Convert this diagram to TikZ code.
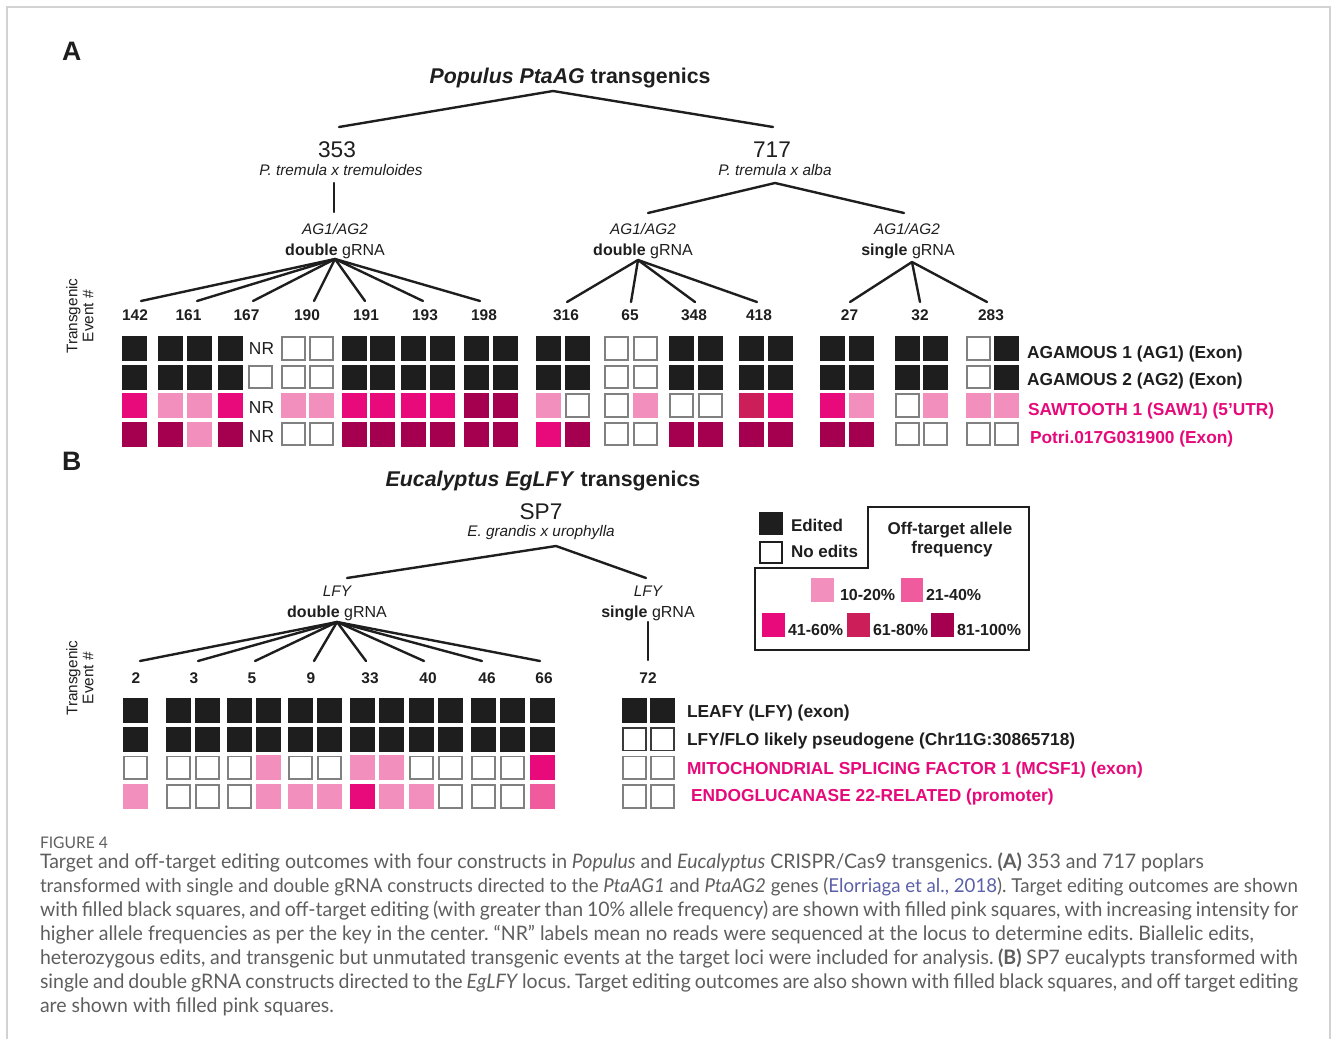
\documentclass[tikz,border=0pt]{standalone}
\usepackage{fontspec}
\setmainfont{Liberation Sans}
\newfontfamily\capfont[FakeStretch=0.975]{Lato}
\frenchspacing
\definecolor{cB}{HTML}{1E1E1E}
\definecolor{cG}{HTML}{808080}
\definecolor{cK}{HTML}{3A3A3A}
\definecolor{pa}{HTML}{F28FBC}
\definecolor{pb}{HTML}{EF5B9C}
\definecolor{pc}{HTML}{E8097B}
\definecolor{pd}{HTML}{CC1F5A}
\definecolor{pe}{HTML}{A5004F}
\definecolor{ptext}{HTML}{E6097A}
\definecolor{capc}{HTML}{5E5E5E}
\definecolor{citc}{HTML}{5B60A8}
\definecolor{cFrame}{HTML}{D2D2D2}
\newcommand\gsq[3]{\csname gsq#3\endcsname{#1}{#2}}
\newcommand\gsqB[2]{\fill[cB] (#1,#2) rectangle ++(25,25);}
\newcommand\gsqW[2]{\draw[cG,line width=1.3pt,fill=white] (#1+1.2,#2+1.2) rectangle ++(22.6,22.6);}
\newcommand\gsqK[2]{\draw[cK,line width=1.3pt,fill=white] (#1+1.2,#2+1.2) rectangle ++(22.6,22.6);}
\newcommand\gsqN[2]{}
\newcommand\gsqa[2]{\fill[pa] (#1,#2) rectangle ++(25,25);}
\newcommand\gsqb[2]{\fill[pb] (#1,#2) rectangle ++(25,25);}
\newcommand\gsqc[2]{\fill[pc] (#1,#2) rectangle ++(25,25);}
\newcommand\gsqd[2]{\fill[pd] (#1,#2) rectangle ++(25,25);}
\newcommand\gsqe[2]{\fill[pe] (#1,#2) rectangle ++(25,25);}
\newcommand\colA[5]{\gsq{#1}{336}{#2}\gsq{#1}{364.5}{#3}\gsq{#1}{393}{#4}\gsq{#1}{421.5}{#5}}
\newcommand\colB[5]{\gsq{#1}{698}{#2}\gsq{#1}{726.7}{#3}\gsq{#1}{755.3}{#4}\gsq{#1}{784}{#5}}
\begin{document}
\begin{tikzpicture}[x=0.75pt,y=-0.75pt,
 every node/.style={inner sep=0pt,outer sep=0pt},
 tl/.style={line width=1.8pt,draw=cB,line cap=round},
 panel/.style={font=\fontsize{20}{24}\selectfont\bfseries,anchor=base west,text=cB},
 ttl/.style={font=\fontsize{16}{19}\selectfont\bfseries,anchor=base,text=cB},
 big/.style={font=\fontsize{17}{20}\selectfont,anchor=base,text=cB},
 sub/.style={font=\fontsize{11.5}{14}\selectfont\itshape,anchor=base,text=cB},
 grna/.style={font=\fontsize{12}{14}\selectfont,anchor=base,text=cB},
 num/.style={font=\fontsize{11.6}{14}\selectfont\bfseries,anchor=base,text=cB},
 gene/.style={font=\fontsize{13}{15}\selectfont\bfseries,anchor=base west,text=cB},
 pgene/.style={gene,text=ptext},
 nrl/.style={font=\fontsize{13}{15}\selectfont,anchor=base,text=cB},
 sidelab/.style={font=\fontsize{11.5}{12}\selectfont,rotate=90,align=center,text=cB},
 leg/.style={font=\fontsize{12.75}{15}\selectfont\bfseries,anchor=base west,text=cB},
 legc/.style={font=\fontsize{12.75}{15}\selectfont\bfseries,anchor=base,text=cB},
 pct/.style={font=\fontsize{12}{14}\selectfont\bfseries,anchor=base west,text=cB},
 captxt/.style={font=\capfont\fontsize{15}{18}\selectfont,text=capc,anchor=base west},
]
\useasboundingbox (0,0) rectangle (1333,1039);
\draw[cFrame,line width=0.8pt] (7,1039) -- (7,7) -- (1330,7) -- (1330,1039);

% ---------------- Panel A ----------------
\node[panel] (lA) at (62,60) {A};
\node[ttl] (tA) at (570,83) {\textit{Populus PtaAG} transgenics};
\node[big] (n353) at (337,157) {353};
\node[sub] (s353) at (341,175) {P. tremula x tremuloides};
\node[big] (n717) at (772,157) {717};
\node[sub] (s717) at (775,175) {P. tremula x alba};
\node[sub] (g1a) at (335,234) {AG1/AG2};
\node[grna] (g1b) at (335,255) {\textbf{double} gRNA};
\node[sub] (g2a) at (643,234) {AG1/AG2};
\node[grna] (g2b) at (643,255) {\textbf{double} gRNA};
\node[sub] (g3a) at (907,234) {AG1/AG2};
\node[grna] (g3b) at (908,255) {\textbf{single} gRNA};

\coordinate (pA) at (553,91);
\coordinate (e353) at (339,127);
\coordinate (e717) at (773,127);
\draw[tl] (e353) -- (pA) -- (e717);
\coordinate (v1t) at (334,183);
\coordinate (v1b) at (334,212);
\draw[tl] (v1t) -- (v1b);
\coordinate (p717) at (775,183);
\coordinate (e2) at (648,213);
\coordinate (e3) at (904,213);
\draw[tl] (e2) -- (p717) -- (e3);
\coordinate (f1) at (335,259);
\foreach \x [count=\i] in {141,197,253,314,365,423,480} {
  \coordinate (ea\i) at (\x,301); \draw[tl] (f1) -- (ea\i);}
\coordinate (f2) at (638,260);
\foreach \x [count=\i] in {567,631,695,757} {
  \coordinate (eb\i) at (\x,302); \draw[tl] (f2) -- (eb\i);}
\coordinate (f3) at (912,262);
\foreach \x [count=\i] in {850,920,987} {
  \coordinate (ec\i) at (\x,302); \draw[tl] (f3) -- (ec\i);}

\foreach \x/\t [count=\i] in {135/142,188.5/161,246.5/167,307/190,366/191,425/193,484/198,566/316,630/65,694/348,759/418,849.5/27,920/32,991/283}
  {\node[num] (na\i) at (\x,320) {\t};}

\node[sidelab] (sideA) at (80,316) {Transgenic\\Event \#};

\colA{122}{B}{B}{c}{e}
\colA{158}{B}{B}{a}{e}
\colA{187}{B}{B}{a}{a}
\colA{218}{B}{B}{c}{e}
\colA{248}{N}{W}{N}{N}
\colA{281}{W}{W}{a}{W}
\colA{309}{W}{W}{a}{W}
\colA{342}{B}{B}{c}{e}
\colA{370}{B}{B}{c}{e}
\colA{401}{B}{B}{c}{e}
\colA{430}{B}{B}{c}{e}
\colA{464}{B}{B}{e}{e}
\colA{493}{B}{B}{e}{e}
\colA{536}{B}{B}{a}{c}
\colA{565}{B}{B}{W}{e}
\colA{604}{W}{W}{W}{W}
\colA{633}{W}{W}{a}{W}
\colA{669}{B}{B}{W}{e}
\colA{698}{B}{B}{W}{e}
\colA{739}{B}{B}{d}{e}
\colA{768}{B}{B}{c}{e}
\colA{820}{B}{B}{c}{e}
\colA{849}{B}{B}{a}{e}
\colA{895}{B}{B}{W}{W}
\colA{923}{B}{B}{a}{W}
\colA{966}{W}{W}{a}{W}
\colA{994}{B}{B}{a}{W}

\node[nrl] (nr1) at (261.5,354) {NR};
\node[nrl] (nr2) at (261.5,413) {NR};
\node[nrl] (nr3) at (261.5,442) {NR};

\node[gene] (ga1) at (1027,358) {AGAMOUS 1 (AG1) (Exon)};
\node[gene] (ga2) at (1027,385) {AGAMOUS 2 (AG2) (Exon)};
\node[pgene] (ga3) at (1028,415) {SAWTOOTH 1 (SAW1) (5’UTR)};
\node[pgene] (ga4) at (1030,443) {Potri.017G031900 (Exon)};

% ---------------- Panel B ----------------
\node[panel] (lB) at (62,470) {B};
\node[ttl] (tB) at (543,486) {\textit{Eucalyptus EgLFY} transgenics};
\node[big] (nSP7) at (541,519) {SP7};
\node[sub] (sSP7) at (541,536) {E. grandis x urophylla};
\node[sub] (g4a) at (337,596) {LFY};
\node[grna] (g4b) at (337,617) {\textbf{double} gRNA};
\node[sub] (g5a) at (648,596) {LFY};
\node[grna] (g5b) at (648,617) {\textbf{single} gRNA};

\coordinate (pB) at (556,546);
\coordinate (eL) at (347,578);
\coordinate (eR) at (646,578);
\draw[tl] (eL) -- (pB) -- (eR);
\coordinate (f4) at (337,622);
\foreach \x [count=\i] in {140,198,255,314,366,424,482,540} {
  \coordinate (ed\i) at (\x,661); \draw[tl] (f4) -- (ed\i);}
\coordinate (v2t) at (648,622);
\coordinate (v2b) at (648,660);
\draw[tl] (v2t) -- (v2b);

\foreach \x/\t [count=\i] in {136/2,194/3,252/5,311/9,370/33,428/40,487/46,544/66,648/72}
  {\node[num] (nb\i) at (\x,683) {\t};}

\node[sidelab] (sideB) at (80,678) {Transgenic\\Event \#};

\colB{123}{B}{B}{W}{a}
\colB{166}{B}{B}{W}{W}
\colB{195}{B}{B}{W}{W}
\colB{227}{B}{B}{W}{W}
\colB{256}{B}{B}{a}{a}
\colB{288}{B}{B}{W}{a}
\colB{317}{B}{B}{W}{a}
\colB{350}{B}{B}{a}{c}
\colB{379}{B}{B}{a}{a}
\colB{409}{B}{B}{W}{a}
\colB{438}{B}{B}{W}{W}
\colB{471}{B}{B}{W}{W}
\colB{500}{B}{B}{W}{W}
\colB{530}{B}{B}{c}{b}
\colB{622}{B}{K}{W}{W}
\colB{650}{B}{K}{W}{W}

\node[gene] (gb1) at (687,717) {LEAFY (LFY) (exon)};
\node[gene] (gb2) at (687,745) {LFY/FLO likely pseudogene (Chr11G:30865718)};
\node[pgene] (gb3) at (687,774) {MITOCHONDRIAL SPLICING FACTOR 1 (MCSF1) (exon)};
\node[pgene] (gb4) at (691,801) {ENDOGLUCANASE 22-RELATED (promoter)};

% ---------------- Legend ----------------
\draw[cB,line width=1.5pt] (755,568) -- (868,568) -- (868,507) -- (1029,507) -- (1029,650) -- (755,650) -- cycle;
\fill[cB] (759,512) rectangle (783,535);
\draw[cB,line width=1.6pt,fill=white] (760,542) rectangle (782,563);
\node[leg] (lEd) at (791,531) {Edited};
\node[leg] (lNo) at (791,557) {No edits};
\node[legc] (lOff) at (950,534) {Off-target allele};
\node[legc] (lFr) at (952,553) {frequency};
\fill[pa] (811,578) rectangle (834,602);
\fill[pb] (901,578) rectangle (923,602);
\fill[pc] (762,613) rectangle (785,637);
\fill[pd] (847,613) rectangle (870,637);
\fill[pe] (931,613) rectangle (954,637);
\node[pct] (k1) at (840,600) {10-20\%};
\node[pct] (k2) at (926,600) {21-40\%};
\node[pct] (k3) at (788,635) {41-60\%};
\node[pct] (k4) at (873,635) {61-80\%};
\node[pct] (k5) at (957,635) {81-100\%};

% ---------------- Caption ----------------
\node[captxt] (fig) at (40,848) {\fontsize{12}{14}\selectfont FIGURE 4};
\node[captxt] (c1) at (40,868) {Target and off-target editing outcomes with four constructs in \textit{Populus} and \textit{Eucalyptus} CRISPR/Cas9 transgenics. \textbf{(A)} 353 and 717 poplars};
\node[captxt] (c2) at (40,892) {\resizebox{943.5pt}{!}{transformed with single and double gRNA constructs directed to the \textit{PtaAG1} and \textit{PtaAG2} genes (\textcolor{citc}{Elorriaga et al., 2018}). Target editing outcomes are shown}};
\node[captxt] (c3) at (40,916) {\makebox[943.5pt][s]{with filled black squares, and off-target editing (with greater than 10\% allele frequency) are shown with filled pink squares, with increasing intensity for}};
\node[captxt] (c4) at (40,940) {higher allele frequencies as per the key in the center. “NR” labels mean no reads were sequenced at the locus to determine edits. Biallelic edits,};
\node[captxt] (c5) at (40,964) {\makebox[943.5pt][s]{heterozygous edits, and transgenic but unmutated transgenic events at the target loci were included for analysis. \textbf{(B)} SP7 eucalypts transformed with}};
\node[captxt] (c6) at (40,988) {\makebox[943.5pt][s]{single and double gRNA constructs directed to the \textit{EgLFY} locus. Target editing outcomes are also shown with filled black squares, and off target editing}};
\node[captxt] (c7) at (40,1012) {are shown with filled pink squares.};
\end{tikzpicture}
\end{document}
